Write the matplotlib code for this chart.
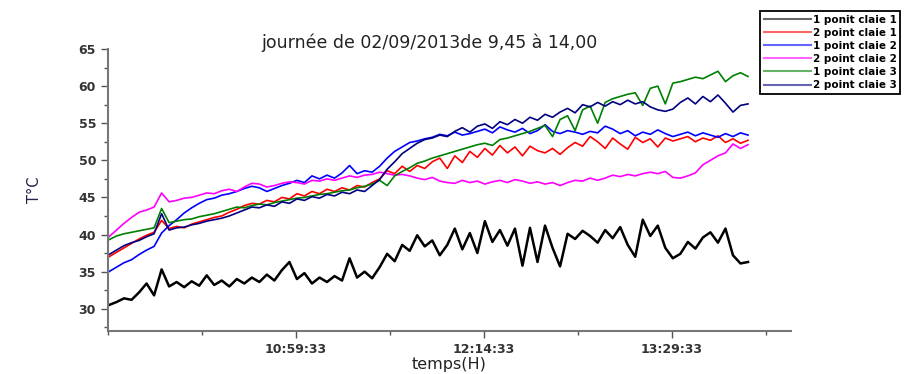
import numpy as np
import matplotlib
matplotlib.use('Agg')
import matplotlib.pyplot as plt

plt.rcParams['font.family'] = ['DejaVu Sans']

# temps en minutes depuis 9:45:00, une mesure toutes les 3 minutes
temps = np.arange(0, 256, 3)

ponit_claie_1 = [30.5, 30.9, 31.4, 31.2, 32.2, 33.4, 31.8, 35.3, 33.0, 33.6,
                 32.9, 33.7, 33.1, 34.5, 33.2, 33.8, 33.0, 34.0, 33.4, 34.2,
                 33.6, 34.6, 33.8, 35.2, 36.3, 34.0, 34.8, 33.4, 34.2, 33.6,
                 34.4, 33.8, 36.8, 34.2, 35.0, 34.1, 35.6, 37.4, 36.4, 38.6,
                 37.8, 39.9, 38.4, 39.2, 37.2, 38.6, 40.8, 38.0, 40.2, 37.5,
                 41.8, 39.0, 40.6, 38.5, 40.8, 35.8, 40.9, 36.3, 41.2, 38.2,
                 35.7, 40.1, 39.4, 40.5, 39.8, 38.9, 40.6, 39.5, 41.0, 38.6,
                 37.0, 42.0, 39.8, 41.2, 38.2, 36.8, 37.4, 39.0, 38.1, 39.6,
                 40.3, 38.9, 40.8, 37.2, 36.1, 36.3]

point_claie_1b = [37.0, 37.6, 38.2, 38.8, 39.4, 39.9, 40.3, 41.9, 40.8, 41.1,
                  40.9, 41.4, 41.7, 42.0, 42.3, 42.5, 43.0, 43.4, 43.9, 44.2,
                  44.1, 44.6, 44.4, 45.0, 44.8, 45.5, 45.2, 45.8, 45.5, 46.1,
                  45.8, 46.3, 46.0, 46.6, 46.4, 47.0, 47.5, 48.6, 48.2, 49.2,
                  48.5, 49.3, 48.9, 49.8, 50.3, 48.9, 50.6, 49.7, 51.2, 50.4,
                  51.6, 50.7, 52.0, 51.0, 51.8, 50.6, 51.9, 51.3, 51.0, 51.6,
                  50.8, 51.7, 52.4, 51.9, 53.2, 52.5, 51.6, 53.0, 52.2, 51.5,
                  53.1, 52.4, 52.9, 51.8, 53.0, 52.6, 52.9, 53.2, 52.5, 53.0,
                  52.7, 53.3, 52.4, 52.9, 52.3, 52.7]

point_claie_2a = [35.0, 35.6, 36.2, 36.6, 37.3, 37.9, 38.4, 40.2, 41.2, 42.0,
                  42.9, 43.6, 44.2, 44.7, 44.9, 45.3, 45.5, 45.8, 46.2, 46.5,
                  46.3, 45.8, 46.2, 46.6, 46.9, 47.3, 47.0, 47.9, 47.5, 48.0,
                  47.6, 48.3, 49.3, 48.2, 48.6, 48.4, 49.2, 50.3, 51.2, 51.8,
                  52.4, 52.6, 52.9, 53.1, 53.5, 53.3, 53.8, 53.4, 53.6, 53.9,
                  54.2, 53.7, 54.5, 54.1, 53.8, 54.3, 53.6, 54.0, 54.8, 53.9,
                  53.6, 54.0, 53.8, 53.5, 53.9, 53.7, 54.6, 54.2, 53.6, 54.0,
                  53.3, 53.8, 53.5, 54.1, 53.6, 53.2, 53.5, 53.8, 53.3, 53.7,
                  53.4, 53.1, 53.6, 53.2, 53.7, 53.4]

point_claie_2b = [39.7, 40.6, 41.5, 42.3, 43.0, 43.3, 43.7, 45.6, 44.4, 44.6,
                  44.9, 45.0, 45.3, 45.6, 45.5, 45.9, 46.1, 45.8, 46.4, 46.9,
                  46.8, 46.4, 46.6, 46.9, 47.1, 47.0, 46.8, 47.3, 47.2, 47.5,
                  47.3, 47.6, 47.9, 47.7, 48.0, 48.1, 48.4, 48.2, 48.0, 48.1,
                  47.9, 47.6, 47.4, 47.7, 47.2, 47.0, 46.9, 47.3, 47.0, 47.2,
                  46.8, 47.1, 47.3, 47.0, 47.4, 47.2, 46.9, 47.1, 46.8, 47.0,
                  46.6, 47.0, 47.3, 47.2, 47.6, 47.3, 47.6, 48.0, 47.8, 48.1,
                  47.9, 48.2, 48.4, 48.2, 48.5, 47.7, 47.6, 47.9, 48.3, 49.4,
                  50.0, 50.6, 51.0, 52.2, 51.6, 52.1]

point_claie_3a = [39.3, 39.8, 40.1, 40.3, 40.5, 40.7, 40.9, 43.5, 41.6, 41.8,
                  42.0, 42.1, 42.4, 42.6, 42.8, 43.1, 43.4, 43.7, 43.6, 43.9,
                  44.1, 44.0, 44.3, 44.5, 44.7, 44.9, 45.0, 45.2, 45.4, 45.5,
                  45.7, 45.9, 46.0, 46.3, 46.5, 46.8, 47.3, 46.6, 47.9, 48.5,
                  49.0, 49.6, 49.9, 50.3, 50.6, 50.9, 51.2, 51.5, 51.8, 52.1,
                  52.3, 52.0, 52.8, 53.0, 53.3, 53.6, 53.9, 54.3, 54.7, 53.2,
                  55.5, 56.0, 54.0, 56.8, 57.3, 55.0, 57.8, 58.3, 58.6, 58.9,
                  59.1, 57.4, 59.7, 60.0, 57.6, 60.4, 60.6, 60.9, 61.2, 61.0,
                  61.5, 62.0, 60.6, 61.4, 61.8, 61.3]

point_claie_3b = [37.3, 37.9, 38.5, 38.9, 39.2, 39.7, 40.1, 42.8, 40.6, 40.9,
                  41.0, 41.3, 41.5, 41.8, 42.0, 42.2, 42.5, 42.9, 43.3, 43.7,
                  43.6, 44.0, 43.8, 44.4, 44.2, 44.8, 44.6, 45.1, 44.9, 45.4,
                  45.2, 45.7, 45.5, 46.0, 45.8, 46.6, 47.4, 48.8, 49.8, 50.9,
                  51.6, 52.3, 52.8, 53.0, 53.4, 53.2, 53.9, 54.4, 53.8, 54.6,
                  54.9, 54.3, 55.2, 54.8, 55.5, 55.0, 55.8, 55.4, 56.2, 55.8,
                  56.5, 57.0, 56.4, 57.5, 57.2, 57.8, 57.3, 57.9, 57.5, 58.1,
                  57.6, 57.9, 57.2, 56.8, 56.6, 56.9, 57.8, 58.4, 57.6, 58.6,
                  57.9, 58.8, 57.7, 56.5, 57.4, 57.6]

tick_pos = [74.55, 149.55, 224.55]
tick_labels = ['10:59:33', '12:14:33', '13:29:33']

fig = plt.figure(figsize=(9.14, 3.74), dpi=100)
ax = fig.add_axes([0.118, 0.115, 0.747, 0.754])

ax.plot(temps, ponit_claie_1, color='black', lw=1.8, label='1 ponit claie 1')
ax.plot(temps, point_claie_1b, color='red', lw=1.2, label='2 point claie 1')
ax.plot(temps, point_claie_2a, color='blue', lw=1.2, label='1 point claie 2')
ax.plot(temps, point_claie_2b, color='magenta', lw=1.2, label='2 point claie 2')
ax.plot(temps, point_claie_3a, color='green', lw=1.2, label='1 point claie 3')
ax.plot(temps, point_claie_3b, color='navy', lw=1.2, label='2 point claie 3')

ax.set_xlim(-0.45, 272)
ax.set_ylim(27, 65)
ax.set_xticks(tick_pos)
ax.set_xticklabels(tick_labels)
ax.set_xticks(np.arange(-0.45, 272, 37.5), minor=True)
ax.set_yticks(np.arange(30, 66, 5))
ax.set_yticks(np.arange(27.5, 65, 2.5), minor=True)

for s in ['top', 'right']:
    ax.spines[s].set_visible(False)
for s in ['left', 'bottom']:
    ax.spines[s].set_color('#777777')
    ax.spines[s].set_linewidth(1.5)
ax.tick_params(which='major', length=5, width=1, color='#555555',
               labelsize=9, labelcolor='#333333')
ax.tick_params(which='minor', length=3, width=1, color='#555555')
for lbl in ax.get_xticklabels() + ax.get_yticklabels():
    lbl.set_fontweight('bold')

ax.set_xlabel('temps(H)', fontsize=11.5, color='#222222', labelpad=1)
ax.set_ylabel('T°C', fontsize=10.5, color='#222244', labelpad=26)
fig.text(0.47, 0.885, 'journée de 02/09/2013de 9,45 à 14,00', ha='center',
         va='center', fontsize=12.5, color='#222222')

leg = ax.legend(loc='upper left', bbox_to_anchor=(760 / 914, 1 - 11 / 374),
                bbox_transform=fig.transFigure,
                prop={'size': 7.5, 'weight': 'bold'}, frameon=True,
                fancybox=False, edgecolor='black', framealpha=1,
                labelspacing=0.3, handlelength=4.5, handletextpad=0.2,
                borderpad=0.35, borderaxespad=0)
leg.get_frame().set_linewidth(1.3)
for line in leg.get_lines():
    line.set_alpha(0.6)
    line.set_linewidth(1.5)

fig.savefig('out.png', dpi=100)
